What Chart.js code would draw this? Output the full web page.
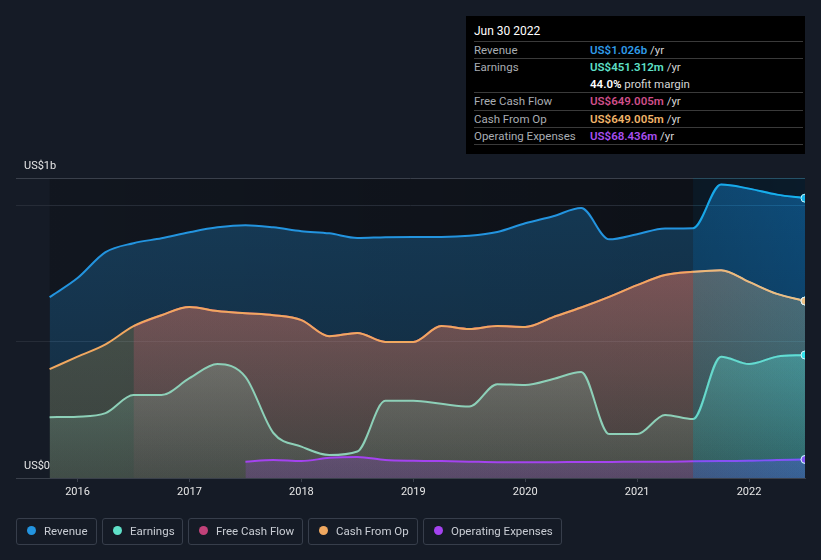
<!DOCTYPE html>
<html>
<head>
<meta charset="utf-8">
<script src="https://cdn.jsdelivr.net/npm/chart.js@4.4.1/dist/chart.umd.min.js"></script>
<style>
    body { margin: 0; background: #151b26; font-family: Roboto, "Noto Sans", sans-serif; }
    #wrap { position: relative; width: 821px; height: 560px; overflow: hidden; }
    #c { position: absolute; left: 0; top: 0; }
    .ylab { position: absolute; left: 24px; font-size: 11px; color: #e6e6e6; line-height: 14px; }
    #tip { position: absolute; left: 466px; top: 16px; width: 339px; height: 138px; background: #000; box-sizing: border-box; padding: 0 2px 0 8px; }
    #tip .title { color: #fff; font-size: 12px; height: 25px; line-height: 31px; }
    #tip .row { border-top: 1px solid #3a3a3a; font-size: 11.5px; line-height: 16.4px; color: #a9adb3; display: flex; }
    #tip .row:last-child { border-bottom: 1px solid #3a3a3a; }
    #tip .lbl { width: 116px; }
    #tip .val b { font-weight: 600; }
    #tip .val span { color: #d6d6d6; }
    #legend { position: absolute; left: 16px; top: 518px; display: flex; gap: 5px; }
    #legend .item { height: 27px; box-sizing: border-box; border: 1px solid #373e4b; border-radius: 3px; padding: 0 0 2px 10px; display: flex; align-items: center; font-size: 11.5px; color: #c9cdd4; white-space: nowrap; }
    #legend .dot { width: 9px; height: 9px; border-radius: 50%; margin-right: 8px; flex: none; }
</style>
</head>
<body>
<div id="wrap">
    <canvas id="c" width="821" height="560"></canvas>
    <div class="ylab" style="top:159px">US$1b</div>
    <div class="ylab" style="top:459px">US$0</div>
    <div id="tip"></div>
    <div id="legend"></div>
</div>
<script>
'use strict';

// quarter ends, Sep 2015 .. Jun 2022 (decimal years)
const quarters = [2015.75, 2016.0, 2016.25, 2016.5, 2016.75, 2017.0, 2017.25, 2017.5, 2017.75,
    2018.0, 2018.25, 2018.5, 2018.75, 2019.0, 2019.25, 2019.5, 2019.75, 2020.0, 2020.25,
    2020.5, 2020.75, 2021.0, 2021.25, 2021.5, 2021.75, 2022.0, 2022.25, 2022.5];

// values in US$ billions, trailing twelve months
const revenue = [0.663, 0.733, 0.828, 0.861, 0.879, 0.901, 0.919, 0.927, 0.919, 0.905, 0.897, 0.880,
    0.883, 0.884, 0.884, 0.888, 0.902, 0.934, 0.960, 0.990, 0.875, 0.894, 0.915, 0.916, 1.076, 1.061, 1.039, 1.026];
const earnings = [0.223, 0.225, 0.238, 0.304, 0.304, 0.366, 0.418, 0.371, 0.165, 0.115, 0.084, 0.097,
    0.283, 0.283, 0.272, 0.262, 0.344, 0.341, 0.363, 0.389, 0.161, 0.161, 0.231, 0.216, 0.445, 0.418, 0.445, 0.451];
const cashFromOp = [0.399, 0.445, 0.490, 0.557, 0.597, 0.627, 0.612, 0.604, 0.597, 0.579, 0.520, 0.532,
    0.499, 0.499, 0.557, 0.546, 0.557, 0.554, 0.590, 0.625, 0.664, 0.707, 0.744, 0.756, 0.762, 0.719, 0.675, 0.649];
const freeCashFlow = [null, null, null, 0.557, 0.597, 0.627, 0.612, 0.604, 0.597, 0.579, 0.520, 0.532,
    0.499, 0.499, 0.557, 0.546, 0.557, 0.554, 0.590, 0.625, 0.664, 0.707, 0.744, 0.756, 0.762, 0.719, 0.675, 0.649];
const opex = [null, null, null, null, null, null, null, 0.060, 0.066, 0.062, 0.074, 0.077,
    0.066, 0.063, 0.062, 0.060, 0.058, 0.058, 0.058, 0.059, 0.059, 0.060, 0.060, 0.061, 0.062, 0.063, 0.066, 0.068];

const yearTicks = [2016, 2017, 2018, 2019, 2020, 2021, 2022];
const yTicks = [0, 0.5, 1, 1.1];
const highlightFrom = 2021.5;

const seriesNames = ['Revenue', 'Earnings', 'Free Cash Flow', 'Cash From Op', 'Operating Expenses'];
const seriesColors = ['#2394df', '#5fe0c8', '#c2427a', '#f0a860', '#a443f0'];
const legendWidths = [81, 81, 115, 110, 139];

const tipRows = [
    ['Revenue', 'US$1.026b', '#2f9be8', ' /yr'],
    ['Earnings', 'US$451.312m', '#5fe0c8', ' /yr'],
    ['', '44.0%', '#ffffff', ' profit margin'],
    ['Free Cash Flow', 'US$649.005m', '#d04f8a', ' /yr'],
    ['Cash From Op', 'US$649.005m', '#f2b56a', ' /yr'],
    ['Operating Expenses', 'US$68.436m', '#a84ff0', ' /yr']
];

function points(values) {
    return quarters.map((q, i) => ({ x: q, y: values[i] }));
}

// vertical alpha gradient across the chart area
function grad(rgb, aTop, aBot) {
    return (c) => {
        const { ctx, chartArea } = c.chart;
        if (!chartArea) return 'transparent';
        const g = ctx.createLinearGradient(0, chartArea.top, 0, chartArea.bottom);
        g.addColorStop(0, `rgba(${rgb},${aTop})`);
        g.addColorStop(1, `rgba(${rgb},${aBot})`);
        return g;
    };
}

function series(label, values, line, dot, fillFn, order) {
    return {
        label: label,
        data: points(values),
        borderColor: line,
        backgroundColor: fillFn,
        fill: 'origin',
        borderWidth: 2,
        cubicInterpolationMode: 'monotone',
        pointRadius: (c) => (c.dataIndex === quarters.length - 1 ? 4 : 0),
        pointBackgroundColor: dot,
        pointBorderColor: '#e6eef2',
        pointBorderWidth: 1,
        order: order
    };
}

const bands = {
    id: 'bands',
    beforeDraw(chart) {
        const { ctx, chartArea, scales, width, height } = chart;
        ctx.save();
        ctx.fillStyle = '#151b26';
        ctx.fillRect(0, 0, width, height);
        const x0 = scales.x.getPixelForValue(quarters[0]);
        const x1 = scales.x.getPixelForValue(highlightFrom);
        const g = ctx.createLinearGradient(x0, 0, x1, 0);
        g.addColorStop(0, 'rgba(0,0,0,0.18)');
        g.addColorStop(1, 'rgba(0,0,0,0.38)');
        ctx.fillStyle = g;
        ctx.fillRect(x0, chartArea.top, x1 - x0, chartArea.bottom - chartArea.top);
        // slightly darker base under the last-year band
        ctx.fillStyle = 'rgba(0,0,0,0.2)';
        ctx.fillRect(x1, chartArea.top, chartArea.right - x1, chartArea.bottom - chartArea.top);
        ctx.restore();
    },
    afterDatasetsDraw(chart) {
        const { ctx, chartArea, scales } = chart;
        const x1 = scales.x.getPixelForValue(highlightFrom);
        const x2 = chartArea.right;
        const g = ctx.createLinearGradient(x1, 0, x2, 0);
        g.addColorStop(0, 'rgb(88,150,158)');
        g.addColorStop(1, 'rgb(80,165,178)');
        ctx.save();
        ctx.globalCompositeOperation = 'overlay';
        ctx.fillStyle = g;
        ctx.fillRect(x1, chartArea.top, x2 - x1, chartArea.bottom - chartArea.top);
        ctx.restore();
    }
};

new Chart(document.getElementById('c'), {
    type: 'line',
    data: {
        datasets: [
            series('Revenue', revenue, seriesColors[0], seriesColors[0], grad('35,148,223', 0.30, 0.16), 6),
            series('Earnings', earnings, '#8dd0b8', '#52d8e0', grad('141,208,184', 0.5, 0.08), 3),
            series('Free Cash Flow', freeCashFlow, seriesColors[2], seriesColors[2], grad('194,66,122', 0.55, 0.05), 5),
            series('Cash From Op', cashFromOp, seriesColors[3], seriesColors[3], grad('230,170,60', 0.26, 0.18), 4),
            series('Operating Expenses', opex, seriesColors[4], seriesColors[4], grad('164,67,240', 0.25, 0.2), 2)
        ]
    },
    options: {
        responsive: false,
        animation: false,
        layout: { padding: { left: 16, right: 16, top: 178, bottom: 52 } },
        plugins: { legend: { display: false }, tooltip: { enabled: false } },
        scales: {
            x: {
                type: 'linear',
                min: 2015.45,
                max: 2022.5,
                afterBuildTicks: (s) => { s.ticks = yearTicks.map(v => ({ value: v })); },
                afterFit: (s) => { s.height = 30; },
                ticks: { color: '#e6e6e6', font: { family: 'Roboto', size: 11 }, padding: 4, callback: v => String(v) },
                grid: { drawOnChartArea: false, drawTicks: true, tickLength: 4, color: '#3a404b' },
                border: { display: true, color: '#3a404b' }
            },
            y: {
                min: 0,
                max: 1.1,
                afterBuildTicks: (s) => { s.ticks = yTicks.map(v => ({ value: v })); },
                afterFit: (s) => { s.width = 0; },
                ticks: { display: false },
                grid: {
                    drawTicks: false,
                    color: (c) => (c.tick && (c.tick.value === 1.1 || c.tick.value === 0) ? '#3a404b' : '#262c37')
                },
                border: { display: false }
            }
        }
    },
    plugins: [bands]
});

// tooltip box (static, last quarter)
const $tip = document.getElementById('tip');
let html = '<div class="title">Jun 30 2022</div>';
tipRows.forEach((r) => {
    const sep = r[0] === '' ? 'border-top:none;' : '';
    html += `<div class="row" style="${sep}"><div class="lbl">${r[0]}</div>` +
        `<div class="val"><b style="color:${r[2]}">${r[1]}</b><span>${r[3]}</span></div></div>`;
});
$tip.innerHTML = html;

const $legend = document.getElementById('legend');
seriesNames.forEach((name, i) => {
    $legend.insertAdjacentHTML('beforeend',
        `<div class="item" style="width:${legendWidths[i]}px"><div class="dot" style="background:${seriesColors[i]}"></div>${name}</div>`);
});
</script>
</body>
</html>
